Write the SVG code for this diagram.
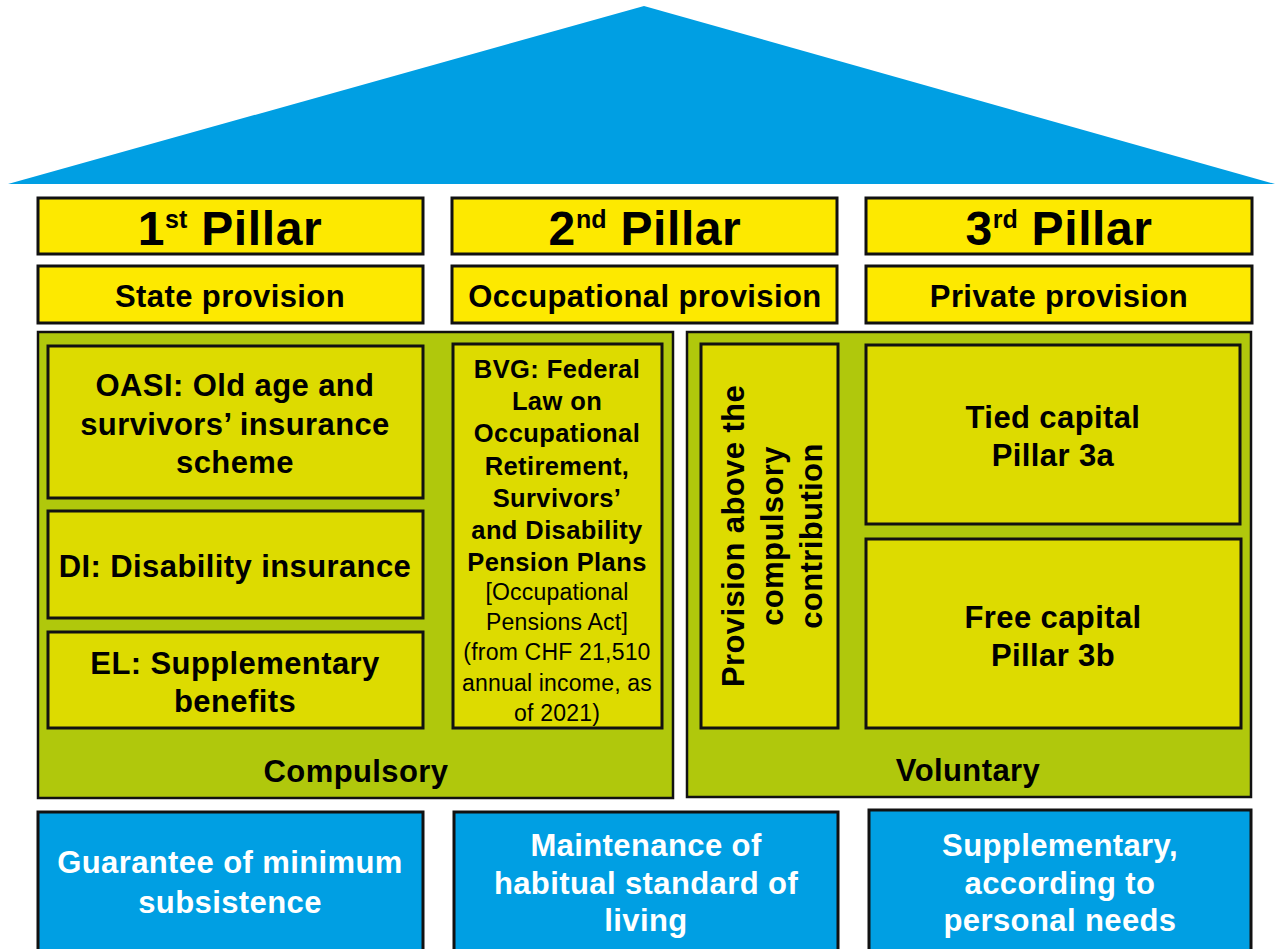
<svg xmlns="http://www.w3.org/2000/svg" width="1275" height="949" viewBox="0 0 1275 949">
  <style>
    .hdr { fill: #FDE900; stroke: #111; stroke-width: 3; }
    .zone { fill: #B0C80C; stroke: #111; stroke-width: 2.5; }
    .cell { fill: #DDDB00; stroke: #111; stroke-width: 3; }
    .goal { fill: #009FE3; stroke: #111; stroke-width: 3; }
    text { font-family: "Liberation Sans", Arial, sans-serif; text-anchor: middle; fill: #000; }
    .big { font-size: 48px; font-weight: bold; letter-spacing: 0.6px; }
    .sup { font-size: 25px; font-weight: bold; letter-spacing: 0; }
    .sub { font-size: 31px; font-weight: bold; letter-spacing: 0.4px; }
    .lbl { font-size: 31px; font-weight: bold; letter-spacing: 0.4px; }
    .bvg { font-size: 25.5px; font-weight: bold; letter-spacing: 0.4px; }
    .note { font-size: 23px; font-weight: normal; letter-spacing: 0.2px; }
    .wht { fill: #fff; }
  </style>

  <!-- roof -->
  <g id="roof">
    <polygon points="8,184 644,6 1275,184" fill="#009FE3"/>
  </g>

  <!-- pillar headings -->
  <g id="pillar1-title">
    <rect class="hdr" x="38" y="198" width="385" height="56"/>
    <text class="big" x="230" y="245">1<tspan class="sup" dy="-17">st</tspan><tspan dy="17"> Pillar</tspan></text>
  </g>
  <g id="pillar2-title">
    <rect class="hdr" x="452" y="198" width="385" height="56"/>
    <text class="big" x="645" y="245">2<tspan class="sup" dy="-17">nd</tspan><tspan dy="17"> Pillar</tspan></text>
  </g>
  <g id="pillar3-title">
    <rect class="hdr" x="866" y="198" width="386" height="56"/>
    <text class="big" x="1059" y="245">3<tspan class="sup" dy="-17">rd</tspan><tspan dy="17"> Pillar</tspan></text>
  </g>

  <g id="pillar1-kind">
    <rect class="hdr" x="38" y="266" width="385" height="57"/>
    <text class="sub" x="230" y="307">State provision</text>
  </g>
  <g id="pillar2-kind">
    <rect class="hdr" x="452" y="266" width="385" height="57"/>
    <text class="sub" x="645" y="307">Occupational provision</text>
  </g>
  <g id="pillar3-kind">
    <rect class="hdr" x="866" y="266" width="386" height="57"/>
    <text class="sub" x="1059" y="307">Private provision</text>
  </g>

  <!-- compulsory zone -->
  <g id="compulsory">
    <rect class="zone" x="38" y="332" width="635" height="466"/>
    <text class="lbl" x="356" y="782">Compulsory</text>
  </g>
  <g id="oasi">
    <rect class="cell" x="48" y="346" width="375" height="152"/>
    <text class="lbl" x="235" y="396">OASI: Old age and<tspan x="235" dy="38.5">survivors’ insurance</tspan><tspan x="235" dy="38.5">scheme</tspan></text>
  </g>
  <g id="di">
    <rect class="cell" x="48" y="511" width="375" height="107"/>
    <text class="lbl" x="235" y="577">DI: Disability insurance</text>
  </g>
  <g id="el">
    <rect class="cell" x="48" y="632" width="375" height="96"/>
    <text class="lbl" x="235" y="674">EL: Supplementary<tspan x="235" dy="38">benefits</tspan></text>
  </g>
  <g id="bvg">
    <rect class="cell" x="453" y="344" width="209" height="384"/>
    <text class="bvg" x="557" y="378">BVG: Federal<tspan x="557" dy="32.2">Law on</tspan><tspan x="557" dy="32.2">Occupational</tspan><tspan x="557" dy="32.2">Retirement,</tspan><tspan x="557" dy="32.2">Survivors’</tspan><tspan x="557" dy="32.2">and Disability</tspan><tspan x="557" dy="32.2">Pension Plans</tspan></text>
    <text class="note" x="557" y="600">[Occupational<tspan x="557" dy="30.2">Pensions Act]</tspan><tspan x="557" dy="30.2">(from CHF 21,510</tspan><tspan x="557" dy="30.2">annual income, as</tspan><tspan x="557" dy="30.2">of 2021)</tspan></text>
  </g>

  <!-- voluntary zone -->
  <g id="voluntary">
    <rect class="zone" x="687" y="332" width="564" height="465"/>
    <text class="lbl" x="968" y="781">Voluntary</text>
  </g>
  <g id="above-compulsory">
    <rect class="cell" x="701" y="344" width="137" height="384"/>
    <text class="lbl" transform="translate(744,536) rotate(-90)" x="0" y="0">Provision above the<tspan x="0" dy="39">compulsory</tspan><tspan x="0" dy="39">contribution</tspan></text>
  </g>
  <g id="pillar-3a">
    <rect class="cell" x="866" y="345" width="374" height="179"/>
    <text class="lbl" x="1053" y="428">Tied capital<tspan x="1053" dy="38">Pillar 3a</tspan></text>
  </g>
  <g id="pillar-3b">
    <rect class="cell" x="866" y="539" width="375" height="189"/>
    <text class="lbl" x="1053" y="628">Free capital<tspan x="1053" dy="38">Pillar 3b</tspan></text>
  </g>

  <!-- purposes -->
  <g id="goal-1">
    <rect class="goal" x="38" y="812" width="385" height="145"/>
    <text class="lbl wht" x="230" y="873">Guarantee of minimum<tspan x="230" dy="40">subsistence</tspan></text>
  </g>
  <g id="goal-2">
    <rect class="goal" x="454" y="812" width="384" height="145"/>
    <text class="lbl wht" x="646" y="856">Maintenance of<tspan x="646" dy="37.5">habitual standard of</tspan><tspan x="646" dy="37.5">living</tspan></text>
  </g>
  <g id="goal-3">
    <rect class="goal" x="869" y="810" width="382" height="147"/>
    <text class="lbl wht" x="1060" y="856">Supplementary,<tspan x="1060" dy="37.5">according to</tspan><tspan x="1060" dy="37.5">personal needs</tspan></text>
  </g>

  <!-- no connectors in this diagram -->
  <g id="connectors"/>
</svg>
